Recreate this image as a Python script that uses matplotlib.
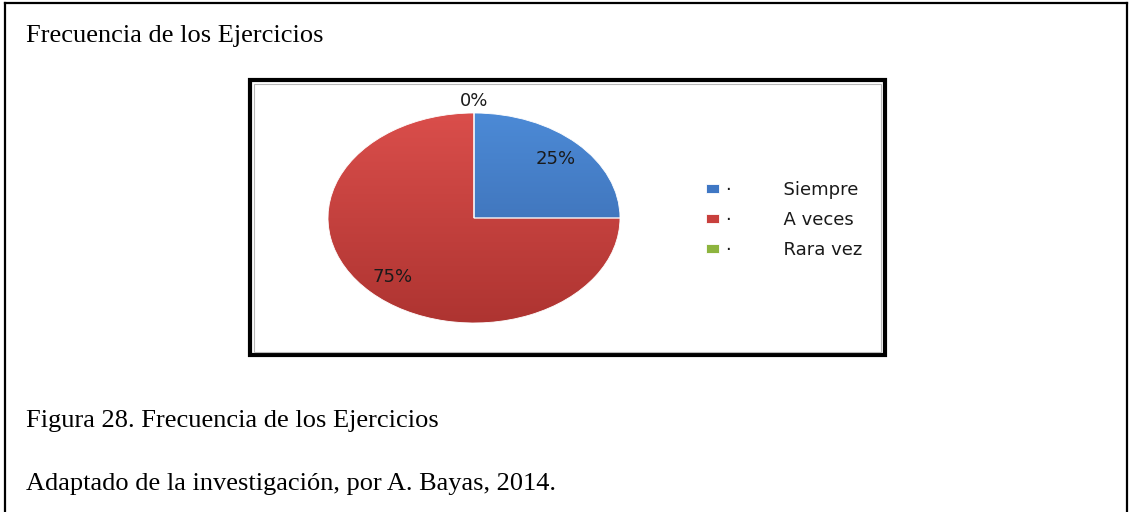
import numpy as np
import matplotlib.pyplot as plt
from matplotlib.patches import Rectangle
from matplotlib.lines import Line2D
from matplotlib.colors import LinearSegmentedColormap

# Datos del gráfico
categorias = ["Siempre", "A veces", "Rara vez"]
porcentajes = [25, 75, 0]
colores = ["#3F77C4", "#C8403D", "#8DB43E"]
colores_claros = ["#4C8AD6", "#DA4E4B", "#A3C859"]
colores_oscuros = ["#3765A8", "#AE3431", "#789A33"]

titulo = "Frecuencia de los Ejercicios"
pie_figura = "Figura 28. Frecuencia de los Ejercicios"
fuente = "Adaptado de la investigación, por A. Bayas, 2014."

W, H = 1131, 512
fig = plt.figure(figsize=(W / 100, H / 100), dpi=100)


def fx(x):
    return x / W


def fy(y):
    return 1 - y / H


# Marco exterior (arriba, izquierda, derecha)
for xs, ys in [([5, 1127], [3, 3]), ([5, 5], [3, 512]), ([1127, 1127], [3, 512])]:
    fig.add_artist(Line2D([fx(x) for x in xs], [fy(y) for y in ys],
                          color="black", lw=1.6, transform=fig.transFigure))

# Marco del gráfico
fig.add_artist(Rectangle((fx(250), fy(355)), fx(885) - fx(250), fy(80) - fy(355),
                         transform=fig.transFigure, fill=False, ec="black", lw=3.0))
fig.add_artist(Rectangle((fx(253.5), fy(351.5)), fx(881.5) - fx(253.5), fy(83.5) - fy(351.5),
                         transform=fig.transFigure, fill=False, ec="#b8b8b8", lw=0.8))

# Pastel (elíptico, como en el original)
cx, cy, rx, ry = 474, 218, 146, 105
ax = fig.add_axes([fx(cx - 1.25 * rx), fy(cy + 1.25 * ry), 2.5 * rx / W, 2.5 * ry / H])
wedges, texts, autotexts = ax.pie(
    porcentajes, colors=colores, startangle=90, counterclock=False,
    autopct="%1.0f%%", pctdistance=0.79,
    wedgeprops=dict(edgecolor="white", linewidth=0.6),
    textprops=dict(fontsize=13, family="DejaVu Sans", color="#1a1a1a"))

# Degradado vertical dentro de cada porción
grad = np.linspace(1, 0, 256).reshape(-1, 1)
for w, c1, c2 in zip(wedges, colores_claros, colores_oscuros):
    cmap = LinearSegmentedColormap.from_list("g", [c2, c1])
    im = ax.imshow(grad, extent=[-1, 1, -1, 1], cmap=cmap, aspect="auto",
                   origin="upper", zorder=w.get_zorder() - 0.1)
    im.set_clip_path(w)
    w.set_facecolor("none")
    w.set_zorder(w.get_zorder() + 0.2)

# Etiqueta del 0% encima del pastel
t = np.deg2rad(wedges[2].theta1)
autotexts[2].set_position((1.11 * np.cos(t), 1.11 * np.sin(t)))

ax.set_aspect("auto")
ax.set_xlim(-1.25, 1.25)
ax.set_ylim(-1.25, 1.25)
ax.axis("off")

# Leyenda
for w, c in zip(wedges, colores):
    w.set_facecolor(c)
leg = fig.legend(wedges, ["·         " + c for c in categorias],
                 loc="center left", bbox_to_anchor=(fx(706), fy(220)),
                 frameon=False, handlelength=0.72, handleheight=0.4,
                 handletextpad=0.4, labelspacing=0.65, borderpad=0, borderaxespad=0,
                 prop=dict(family="DejaVu Sans", size=13))
for w in wedges:
    w.set_facecolor("none")
for h, c in zip(leg.legend_handles, colores):
    h.set_facecolor(c)
    h.set_edgecolor("white")
for txt in leg.get_texts():
    txt.set_color("#1a1a1a")

# Textos
serif = dict(fontsize=19, family="Liberation Serif", va="baseline")
fig.text(fx(26), fy(42), titulo, **serif)
fig.text(fx(26), fy(427), pie_figura, **serif)
fig.text(fx(26), fy(490), fuente, **serif)

fig.savefig("out.png", dpi=100)
